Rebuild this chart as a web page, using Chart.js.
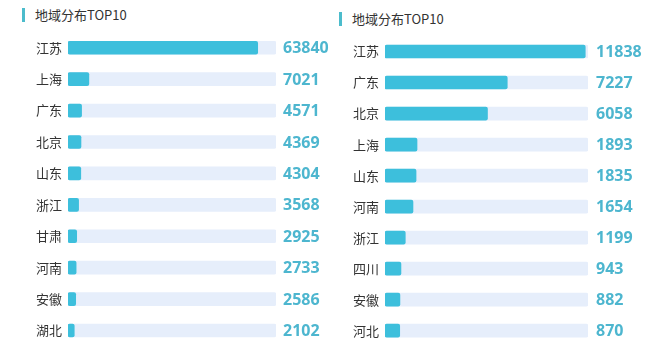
<!DOCTYPE html>
<html>
<head>
<meta charset="utf-8">
<script src="https://cdn.jsdelivr.net/npm/chart.js@4"></script>
<style>
  html, body { margin: 0; padding: 0; background: #fff; }
  body { width: 670px; height: 360px; position: relative; overflow: hidden;
         font-family: "Noto Sans CJK SC", "Noto Sans", sans-serif; }
  .panel { position: absolute; top: 0; width: 335px; height: 360px; }
  .panel canvas { position: absolute; left: 0; top: 0; }
  .title { position: absolute; font-size: 13px; color: #333; line-height: 14px;
           border-left: 3px solid #4cbccc; padding-left: 10px; white-space: nowrap; }
</style>
</head>
<body>
<div class="panel" style="left:0">
  <div class="title" style="left:22px; top:8px;">地域分布TOP10</div>
  <canvas id="leftChart" width="335" height="360"></canvas>
</div>
<div class="panel" style="left:335px">
  <div class="title" style="left:4px; top:12px;">地域分布TOP10</div>
  <canvas id="rightChart" width="335" height="360"></canvas>
</div>
<script>
/* ---- data ---- */
const leftRegions = ['江苏', '上海', '广东', '北京', '山东', '浙江', '甘肃', '河南', '安徽', '湖北'];
const leftValues = [63840, 7021, 4571, 4369, 4304, 3568, 2925, 2733, 2586, 2102];
const leftMax = 70000;

const rightRegions = ['江苏', '广东', '北京', '上海', '山东', '河南', '浙江', '四川', '安徽', '河北'];
const rightValues = [11838, 7227, 6058, 1893, 1835, 1654, 1199, 943, 882, 870];
const rightMax = 12000;

const BAR_COLOR = '#3dbfdc';
const TRACK_COLOR = '#e6eefb';
const VALUE_COLOR = '#4db6cf';

// draws the number to the right of each track
const valueLabels = {
    id: 'valueLabels',
    afterDatasetsDraw(chart, args, opts) {
        const { ctx, chartArea, scales } = chart;
        const values = chart.data.datasets[0].data;
        ctx.save();
        ctx.font = 'bold 16px "Noto Sans", sans-serif';
        ctx.fillStyle = VALUE_COLOR;
        ctx.textBaseline = 'middle';
        ctx.textAlign = 'left';
        values.forEach((v, i) => {
            ctx.fillText(String(v), chartArea.right + opts.gap, scales.y.getPixelForValue(i) + 1);
        });
        ctx.restore();
    }
};

function renderRankChart(id, regions, values, max, pad, axisWidth, gap) {
    const ctx = document.getElementById(id);
    return new Chart(ctx, {
        type: 'bar',
        data: {
            labels: regions,
            datasets: [
                {
                    data: values,
                    backgroundColor: BAR_COLOR,
                    borderRadius: 2,
                    borderSkipped: false,
                    barThickness: 13,
                    grouped: false,
                    order: 1
                },
                {
                    data: values.map(() => max),
                    backgroundColor: TRACK_COLOR,
                    borderRadius: 2,
                    borderSkipped: false,
                    barThickness: 13,
                    grouped: false,
                    order: 2
                }
            ]
        },
        options: {
            indexAxis: 'y',
            responsive: false,
            animation: false,
            layout: { padding: pad },
            scales: {
                x: { display: false, min: 0, max: max },
                y: {
                    grid: { display: false, drawTicks: false },
                    border: { display: false },
                    afterFit: (scale) => { scale.width = axisWidth; },
                    ticks: {
                        color: '#333',
                        padding: 6,
                        font: { family: '"Noto Sans CJK SC", sans-serif', size: 13 }
                    }
                }
            },
            plugins: {
                legend: { display: false },
                tooltip: { enabled: false },
                valueLabels: { gap: gap }
            }
        },
        plugins: [valueLabels]
    });
}

renderRankChart('leftChart', leftRegions, leftValues, leftMax,
    { left: 0, right: 59, top: 32, bottom: 12 }, 68, 7);
renderRankChart('rightChart', rightRegions, rightValues, rightMax,
    { left: 0, right: 82, top: 36, bottom: 12 }, 50, 8);
</script>
</body>
</html>
